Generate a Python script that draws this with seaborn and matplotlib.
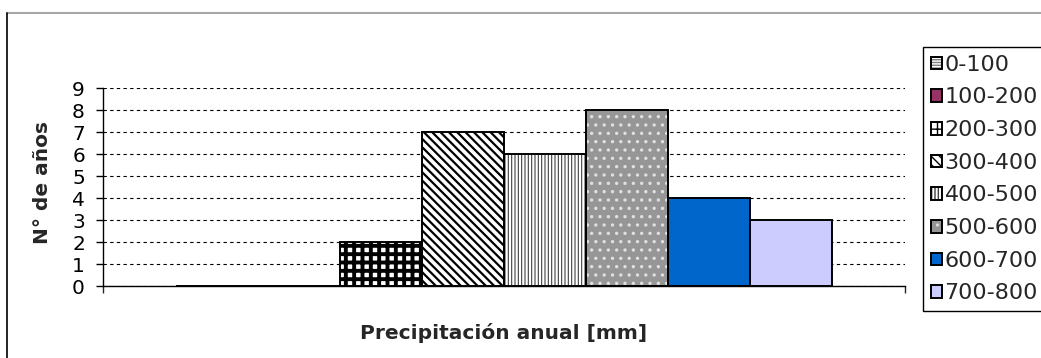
import matplotlib
matplotlib.use("Agg")
import matplotlib.pyplot as plt
from matplotlib.patches import Rectangle
from matplotlib.lines import Line2D
from matplotlib.legend_handler import HandlerTuple
import pandas as pd
import seaborn as sns

# Annual precipitation classes and number of years in each
rangos = ["0-100", "100-200", "200-300", "300-400", "400-500", "500-600", "600-700", "700-800"]
anos = [0, 0, 2, 7, 6, 8, 4, 3]
colores = ["#ffffff", "#993366", "#ffffff", "#ffffff", "#ffffff", "#969696", "#0066cc", "#ccccff"]
tramas = ["------", None, "++", "\\\\\\\\", "|||||", "..", None, None]
color_trama = ["#808080", "#993366", "#000000", "#000000", "#404040", "#e0e0e0", "#0066cc", "#ccccff"]
grosor_trama = [0.8, 1.0, 2.8, 1.6, 0.8, 1.2, 1.0, 1.0]

sns.set_style("white")
plt.rcParams["font.family"] = ["DejaVu Sans"]

df = pd.DataFrame({"grupo": [""] * len(rangos), "rango": rangos, "anos": anos})

W, H = 1041, 358
fig = plt.figure(figsize=(W / 100, H / 100), dpi=100)
ax = fig.add_axes([103 / W, 72 / H, 802 / W, 198 / H])

sns.barplot(data=df, x="grupo", y="anos", hue="rango", hue_order=rangos,
            palette=dict(zip(rangos, colores)), width=0.818, saturation=1,
            legend=False, ax=ax, zorder=2)

handles = []
for i, cont in enumerate(ax.containers):
    for p in cont.patches:
        p.set_edgecolor(color_trama[i])
        p.set_linewidth(0)
        if tramas[i]:
            p.set_hatch(tramas[i])
            if hasattr(p, "set_hatch_linewidth"):
                p.set_hatch_linewidth(grosor_trama[i])
        borde = Rectangle((p.get_x(), p.get_y()), p.get_width(), p.get_height(),
                          fill=False, edgecolor="black", linewidth=1.4, zorder=3)
        ax.add_patch(borde)
    handles.append((cont.patches[0], borde))

ax.set_xlim(-0.5, 0.5)
ax.set_ylim(0, 9)
ax.set_yticks(range(0, 10))
ax.set_xticks([-0.5, 0.5])
ax.set_xticklabels([])
ax.tick_params(axis="y", direction="out", length=5, width=1, pad=8,
               labelsize=14.5, colors="black", left=True)
ax.tick_params(axis="x", direction="out", length=5, width=1, bottom=True)
ax.yaxis.grid(True, color="black", linestyle=(0, (3, 3)), linewidth=0.8)
ax.xaxis.grid(False)
ax.set_axisbelow(True)
for s in ["top", "right"]:
    ax.spines[s].set_visible(False)
for s in ["left", "bottom"]:
    ax.spines[s].set_color("black")
    ax.spines[s].set_linewidth(1)

ax.set_xlabel("Precipitación anual [mm]", fontsize=14.5, fontweight="bold")
ax.xaxis.label.set_va("baseline")
ax.xaxis.set_label_coords(0.5, -0.268)
ax.set_ylabel("N° de años", fontsize=14.5, fontweight="bold")
ax.yaxis.label.set_va("center")
ax.yaxis.set_label_coords(-0.076, 0.525)

leg = fig.legend(handles, rangos, handler_map={tuple: HandlerTuple(ndivide=1, pad=0)},
                 loc="upper left", bbox_to_anchor=(923 / W, 1 - 47 / H),
                 fontsize=16, frameon=True, fancybox=False, framealpha=1,
                 edgecolor="black", handlelength=0.5, handleheight=0.5,
                 handletextpad=0.12, labelspacing=0.57, borderpad=0.35,
                 borderaxespad=0)
leg.get_frame().set_linewidth(1)

# chart area frame
fig.add_artist(Line2D([7 / W, 1], [1 - 13 / H, 1 - 13 / H], color="#a6a6a6", linewidth=1.5))
fig.add_artist(Line2D([7 / W, 7 / W], [0, 1 - 13 / H], color="black", linewidth=1.2))

fig.savefig("out.png", dpi=100, facecolor="white")
